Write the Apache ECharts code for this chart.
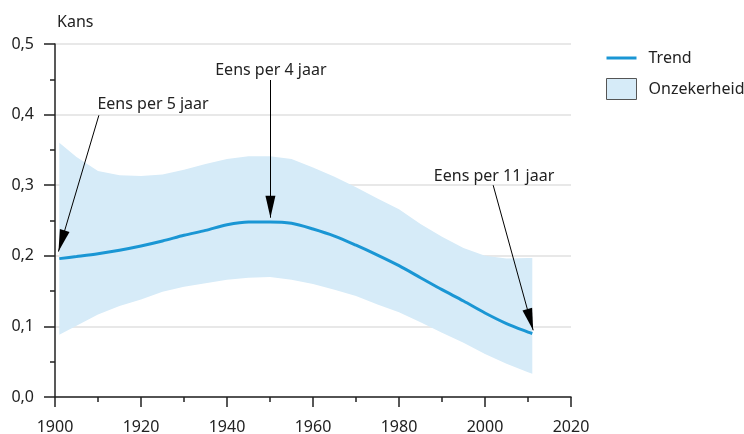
<!DOCTYPE html>
<html>
<head>
<meta charset="utf-8">
<script src="https://cdn.jsdelivr.net/npm/echarts@6/dist/echarts.min.js"></script>
<style>
  html, body { margin: 0; padding: 0; background: #fff; }
  #chart { width: 744px; height: 434px; }
</style>
</head>
<body>
<div id="chart"></div>
<script>
const years = [1901, 1905, 1910, 1915, 1920, 1925, 1930, 1935, 1940, 1945, 1950, 1955,
  1960, 1965, 1970, 1975, 1980, 1985, 1990, 1995, 2000, 2005, 2010, 2011]
const trend = [0.196, 0.199, 0.203, 0.208, 0.214, 0.221, 0.229, 0.236, 0.244, 0.248, 0.248, 0.246,
  0.238, 0.228, 0.215, 0.201, 0.186, 0.169, 0.152, 0.136, 0.119, 0.104, 0.092, 0.090]
const upper = [0.360, 0.340, 0.320, 0.314, 0.313, 0.315, 0.322, 0.330, 0.337, 0.341, 0.341, 0.337,
  0.325, 0.312, 0.297, 0.281, 0.266, 0.245, 0.227, 0.211, 0.200, 0.196, 0.197, 0.197]
const lower = [0.088, 0.101, 0.117, 0.129, 0.138, 0.149, 0.156, 0.161, 0.166, 0.169, 0.170, 0.166,
  0.160, 0.152, 0.143, 0.131, 0.120, 0.106, 0.091, 0.077, 0.061, 0.047, 0.035, 0.033]

// annotations: text anchor, arrow start, arrow tip (in data coords)
const notes = [
  { text: 'Eens per 5 jaar', at: [1922.8, 0.414], from: [1910.2, 0.399], to: [1900.8, 0.206] },
  { text: 'Eens per 4 jaar', at: [1950.2, 0.463], from: [1950.1, 0.449], to: [1950.1, 0.254] },
  { text: 'Eens per 11 jaar', at: [2002.1, 0.313], from: [2001.9, 0.300], to: [2011.2, 0.0945] }
]

const font = 'Noto Sans'
const blue = '#1a96d4'
const band = '#d6ebf8'

const chart = echarts.init(document.getElementById('chart'))

// one polygon for the whole uncertainty band
const renderBand = (params, api) => {
  if (params.dataIndex !== 0) return null
  const top = years.map((y, i) => api.coord([y, upper[i]]))
  const bottom = years.map((y, i) => api.coord([y, lower[i]])).reverse()
  return {
    type: 'polygon',
    shape: { points: top.concat(bottom) },
    style: { fill: band }
  }
}

const option = {
  animation: false,
  grid: { left: 55, right: 173, top: 44, bottom: 37, outerBoundsMode: 'none' },
  legend: {
    orient: 'vertical',
    left: 601,
    top: 45,
    itemWidth: 30,
    itemHeight: 21,
    itemGap: 12,
    selectedMode: false,
    textStyle: { fontFamily: font, fontSize: 16, color: '#222', padding: [0, 0, 0, 7] },
    data: [
      { name: 'Trend', icon: 'path://M0,0H30V3H0Z', itemStyle: { color: blue } },
      { name: 'Onzekerheid', icon: 'rect', itemStyle: { color: band, borderColor: '#555', borderWidth: 1 } }
    ]
  },
  xAxis: {
    type: 'value',
    min: 1900,
    max: 2020,
    interval: 20,
    axisLine: { show: true, lineStyle: { color: '#222', width: 1.5 } },
    axisTick: { show: true, length: 10, lineStyle: { color: '#222', width: 1.5 } },
    minorTick: { show: true, splitNumber: 2, length: 5, lineStyle: { color: '#222', width: 1.5 } },
    splitLine: { show: false },
    axisLabel: { fontFamily: font, fontSize: 16, color: '#222', margin: 22, formatter: v => String(v) }
  },
  yAxis: {
    type: 'value',
    min: 0,
    max: 0.5,
    interval: 0.1,
    name: 'Kans',
    nameLocation: 'end',
    nameGap: 14,
    nameTextStyle: { fontFamily: font, fontSize: 16, color: '#222', align: 'left', padding: [0, 0, 0, 2] },
    axisLine: { show: true, lineStyle: { color: '#222', width: 1.5 } },
    axisTick: { show: true, length: 11, lineStyle: { color: '#222', width: 1.5 } },
    minorTick: { show: true, splitNumber: 2, length: 5, lineStyle: { color: '#222', width: 1.5 } },
    splitLine: { show: true, lineStyle: { color: '#e0e0e0', width: 1.5 } },
    axisLabel: { fontFamily: font, fontSize: 16, color: '#222', margin: 21, formatter: v => v.toFixed(1).replace('.', ',') }
  },
  series: [
    {
      name: 'Onzekerheid',
      type: 'custom',
      renderItem: renderBand,
      itemStyle: { color: band },
      data: years.map((y, i) => [y, lower[i], upper[i]]),
      encode: { x: 0, y: [1, 2] },
      silent: true,
      z: 1
    },
    {
      name: 'Trend',
      type: 'line',
      symbol: 'none',
      smooth: 0.3,
      lineStyle: { color: blue, width: 3 },
      itemStyle: { color: blue },
      data: years.map((y, i) => [y, trend[i]]),
      z: 3,
      markLine: {
        silent: true,
        symbol: ['none', 'triangle'],
        lineStyle: { color: '#000', width: 1, type: 'solid' },
        itemStyle: { color: '#000' },
        label: { show: false },
        emphasis: { disabled: true },
        // arrow head: narrow triangle, pulled back so its tip sits on the end point
        data: notes.map(n => [
          { coord: n.from },
          { coord: n.to, symbolSize: [10, 22], symbolOffset: [0, 11] }
        ])
      }
    }
  ]
}

chart.setOption(option)

chart.setOption({
  graphic: notes.map(n => {
    const p = chart.convertToPixel({ gridIndex: 0 }, n.at)
    return {
      type: 'text',
      x: p[0],
      y: p[1],
      style: {
        text: n.text,
        font: '16px "Noto Sans"',
        fill: '#222',
        align: 'center',
        verticalAlign: 'middle'
      }
    }
  })
})
</script>
</body>
</html>
